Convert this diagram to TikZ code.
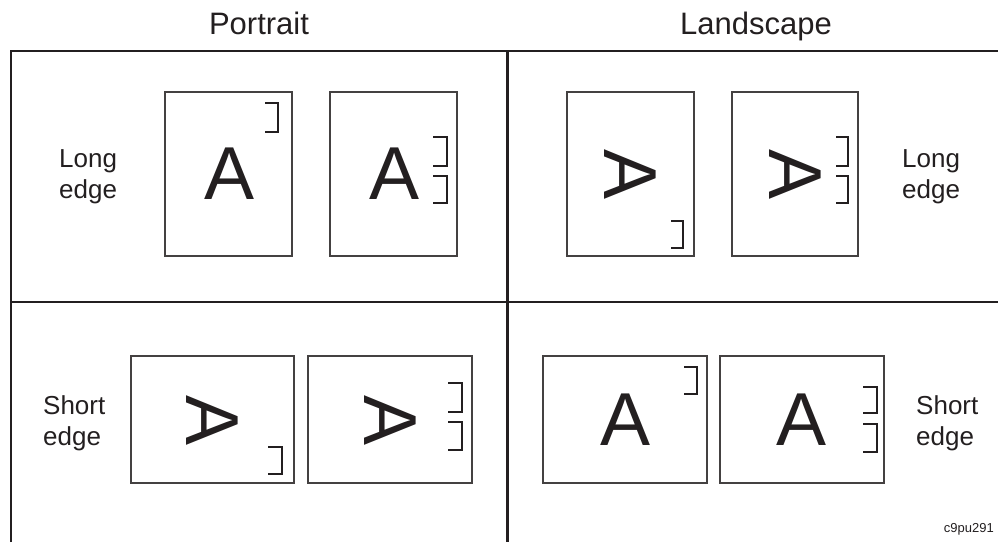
\documentclass[tikz,border=0pt]{standalone}
\usepackage{fontspec}
\setmainfont{Liberation Sans}
\definecolor{ink}{HTML}{231F20}
\tikzset{
  frameline/.style={draw=ink, line width=2.2pt},
  pagebox/.style={draw=ink!85, line width=1.3pt, fill=white, inner sep=0pt},
  brk/.style={draw=ink, line width=1.1pt},
  bigA/.style={text=ink, inner sep=0pt, font=\fontsize{75}{75}\selectfont},
  title/.style={text=ink, inner sep=0pt, font=\fontsize{31}{31}\selectfont, anchor=base},
  lbl/.style={text=ink, inner sep=0pt, font=\fontsize{26}{31}\selectfont, align=left},
}
\newcommand{\brkt}[4]{\draw[brk] (#1,#2) -- (#3,#2) -- (#3,#4) -- (#1,#4);}
\begin{document}
\begin{tikzpicture}[x=1pt,y=-1pt]
\useasboundingbox (0,0) rectangle (998,542);
% frame
\coordinate (tl) at (11,51);
\coordinate (tr) at (998,51);
\coordinate (bl) at (11,542);
\coordinate (mt) at (507.5,51);
\coordinate (mb) at (507.5,542);
\coordinate (ml) at (11,302);
\coordinate (mr) at (998,302);
\draw[frameline] (bl) -- (tl) -- (tr);
\draw[frameline] (mt) -- (mb);
\draw[frameline] (ml) -- (mr);
% titles
\node[title] (tP) at (259,34) {Portrait};
\node[title] (tL) at (756,34) {Landscape};
% labels
\node[lbl, anchor=north west] (l1) at (59,149) {Long\\edge};
\node[lbl, anchor=north west] (l2) at (902,149) {Long\\edge};
\node[lbl, anchor=north west] (l3) at (43,395) {Short\\edge};
\node[lbl, anchor=north west] (l4) at (916,395) {Short\\edge};
\node[text=ink, inner sep=0pt, font=\fontsize{13}{13}\selectfont, anchor=base east] (id) at (994,532) {c9pu291};
% Portrait long edge
\node[pagebox, minimum width=127pt, minimum height=164pt] (p1) at (228.5,174) {};
\node[bigA] (a1) at (230,174) {A};
\brkt{265}{103}{278}{132}
\node[pagebox, minimum width=127pt, minimum height=164pt] (p2) at (393.5,174) {};
\node[bigA] (a2) at (395,174) {A};
\brkt{433}{137}{447}{166}
\brkt{433}{176}{447}{203}
% Landscape long edge
\node[pagebox, minimum width=127pt, minimum height=164pt] (p3) at (630.5,174) {};
\node[bigA, rotate=-90] (a3) at (630,175) {A};
\brkt{671}{221}{683}{248}
\node[pagebox, minimum width=126pt, minimum height=164pt] (p4) at (795,174) {};
\node[bigA, rotate=-90] (a4) at (795,175) {A};
\brkt{836}{137}{848}{166}
\brkt{836}{176}{848}{203}
% Portrait short edge
\node[pagebox, minimum width=163pt, minimum height=127pt] (p5) at (212.5,419.5) {};
\node[bigA, rotate=-90] (a5) at (212,421) {A};
\brkt{268}{447}{282}{474}
\node[pagebox, minimum width=164pt, minimum height=127pt] (p6) at (390,419.5) {};
\node[bigA, rotate=-90] (a6) at (390,421) {A};
\brkt{448}{383}{462}{412}
\brkt{448}{422}{462}{450}
% Landscape short edge
\node[pagebox, minimum width=164pt, minimum height=127pt] (p7) at (625,419.5) {};
\node[bigA] (a7) at (626,420) {A};
\brkt{684}{367}{697}{394}
\node[pagebox, minimum width=164pt, minimum height=127pt] (p8) at (802,419.5) {};
\node[bigA] (a8) at (802,420) {A};
\brkt{863}{387}{877}{413}
\brkt{863}{424}{877}{452}
\end{tikzpicture}
\end{document}
